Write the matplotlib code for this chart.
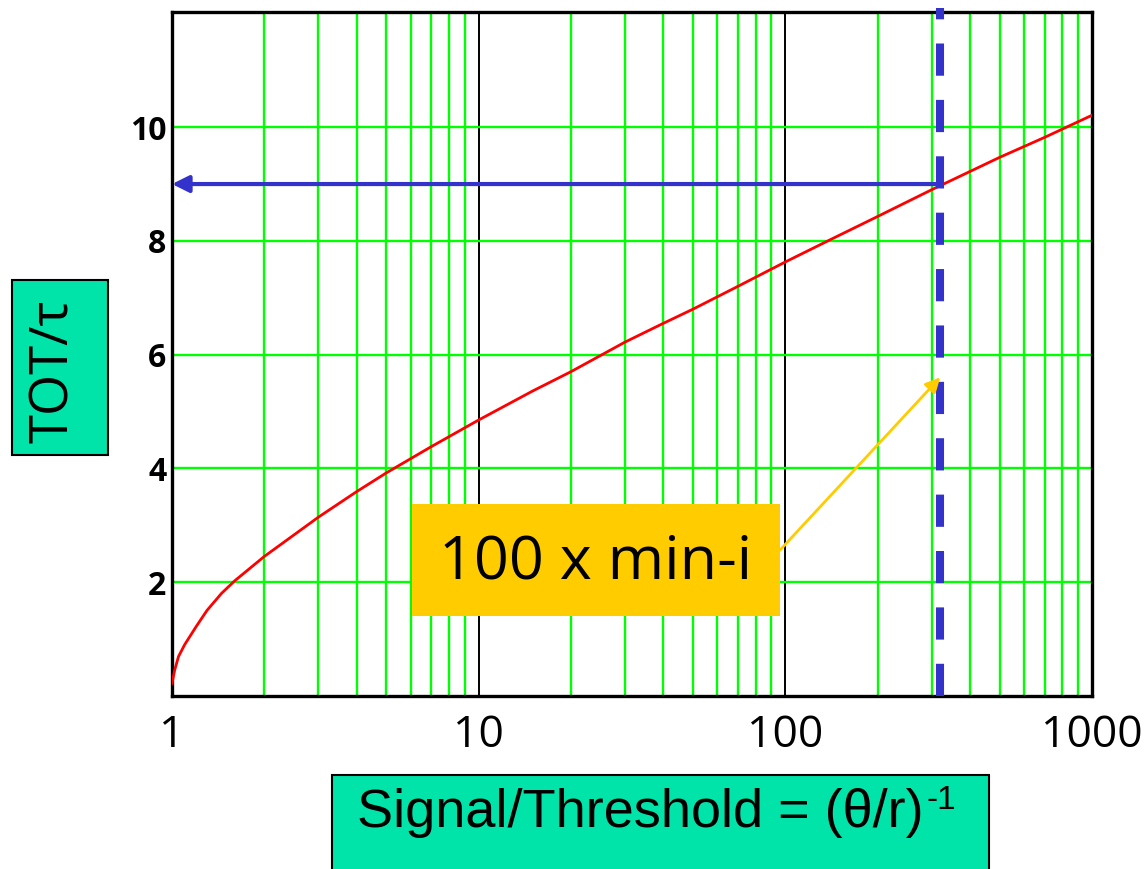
import matplotlib.pyplot as plt
from matplotlib.patches import Rectangle
from matplotlib.text import Annotation
from matplotlib.ticker import FixedLocator, NullLocator, NullFormatter

# values
sig = [1, 1.02, 1.05, 1.1, 1.2, 1.3, 1.45, 1.6, 2, 3, 4, 5, 7, 10, 15, 20,
       30, 40, 50, 70, 100, 140, 200, 300, 500, 700, 1000]
tot = [0.22, 0.45, 0.69, 0.9, 1.22, 1.5, 1.8, 2.02, 2.45, 3.14, 3.59, 3.92, 4.38, 4.85, 5.36, 5.7,
       6.22, 6.55, 6.8, 7.2, 7.63, 8.02, 8.43, 8.9, 9.47, 9.82, 10.21]

x_ticks = [1, 10, 100, 1000]
x_labels = ['1', '10', '100', '1000']
y_ticks = [2, 4, 6, 8, 10]
y_labels = ['2', '4', '6', '8', '10']
x_minor = [k * 10 ** d for d in range(3) for k in range(2, 10)]

mip_x = 320        # 100 x min-i signal
mip_tot = 9.0
note_from = (96, 2.56)
note_to = (320, 5.6)

green = '#00ff00'
blue = '#3333cc'
yellow = '#ffcc00'
teal = '#00e3a9'

fig = plt.figure(figsize=(11.46, 8.69), dpi=100)
ax = fig.add_axes([0.1501, 0.1994, 0.8028, 0.7864])

ax.set_xscale('log')
ax.set_xlim(1, 1000)
ax.set_ylim(0, 12.02)

ax.xaxis.set_major_locator(FixedLocator(x_ticks))
ax.xaxis.set_minor_locator(FixedLocator(x_minor))
ax.xaxis.set_minor_formatter(NullFormatter())
ax.set_xticklabels(x_labels, family=['Open Sans', 'DejaVu Sans'], fontsize=32)
ax.yaxis.set_major_locator(FixedLocator(y_ticks))
ax.yaxis.set_minor_locator(NullLocator())
ax.set_yticklabels(y_labels, family=['Open Sans', 'DejaVu Sans'], fontsize=23, fontweight='bold')
ax.tick_params(which='both', length=0)
ax.tick_params(axis='x', pad=13)
ax.tick_params(axis='y', pad=4)

# grid
ax.set_axisbelow(True)
ax.xaxis.grid(True, which='major', color='black', lw=1.4)
ax.xaxis.grid(True, which='minor', color=green, lw=1.7)
ax.yaxis.grid(True, which='major', color=green, lw=1.7)
for s in ax.spines.values():
    s.set_linewidth(2.4)

# curve
ax.plot(sig, tot, color='red', lw=2, zorder=3)

# 100 x min-i marker
ax.plot([mip_x, mip_x], [0, 12.1], color=blue, lw=5.8, ls=(0, (4, 3)),
        solid_capstyle='butt', dash_capstyle='butt', clip_on=False, zorder=4)
ax.annotate('', xy=(1, mip_tot), xytext=(mip_x, mip_tot),
            arrowprops=dict(arrowstyle='-|>', color=blue, lw=3, mutation_scale=25,
                            shrinkA=0, shrinkB=0), zorder=5)

# note box
ax.add_patch(Rectangle((0.261, 0.1166), 0.4, 0.1639, transform=ax.transAxes,
                       facecolor=yellow, edgecolor='none', zorder=4))
ax.text(0.4609, 0.1949, '100 x min-i', transform=ax.transAxes, ha='center', va='center',
        family=['Open Sans', 'DejaVu Sans'], fontsize=44, zorder=5)
ax.annotate('', xy=note_to, xytext=note_from,
            arrowprops=dict(arrowstyle='-|>', color=yellow, lw=2, mutation_scale=22,
                            shrinkA=0, shrinkB=0), zorder=5)

# axis label boxes
fig.patches.append(Rectangle((0.0105, 0.4764), 0.0837, 0.2014, transform=fig.transFigure,
                             facecolor=teal, edgecolor='black', lw=1.5))
fig.text(0.047, 0.573, 'TOT/\u03c4', rotation=90, ha='center', va='center',
         family=['Open Sans', 'DejaVu Sans'], fontsize=38)

fig.patches.append(Rectangle((0.2897, -0.01), 0.5733, 0.118, transform=fig.transFigure,
                             facecolor=teal, edgecolor='black', lw=1.5))
t = fig.text(0.3115, 0.0644, 'Signal/Threshold = (\u03b8/r)', ha='left', va='center',
             family=['Liberation Sans', 'DejaVu Sans'], fontsize=39)
sup = Annotation('-1', xy=(1, 1), xycoords=t, xytext=(2, 2), textcoords='offset points',
                 ha='left', va='top', family=['Liberation Sans', 'DejaVu Sans'], fontsize=24)
fig.add_artist(sup)

plt.savefig('out.png')
